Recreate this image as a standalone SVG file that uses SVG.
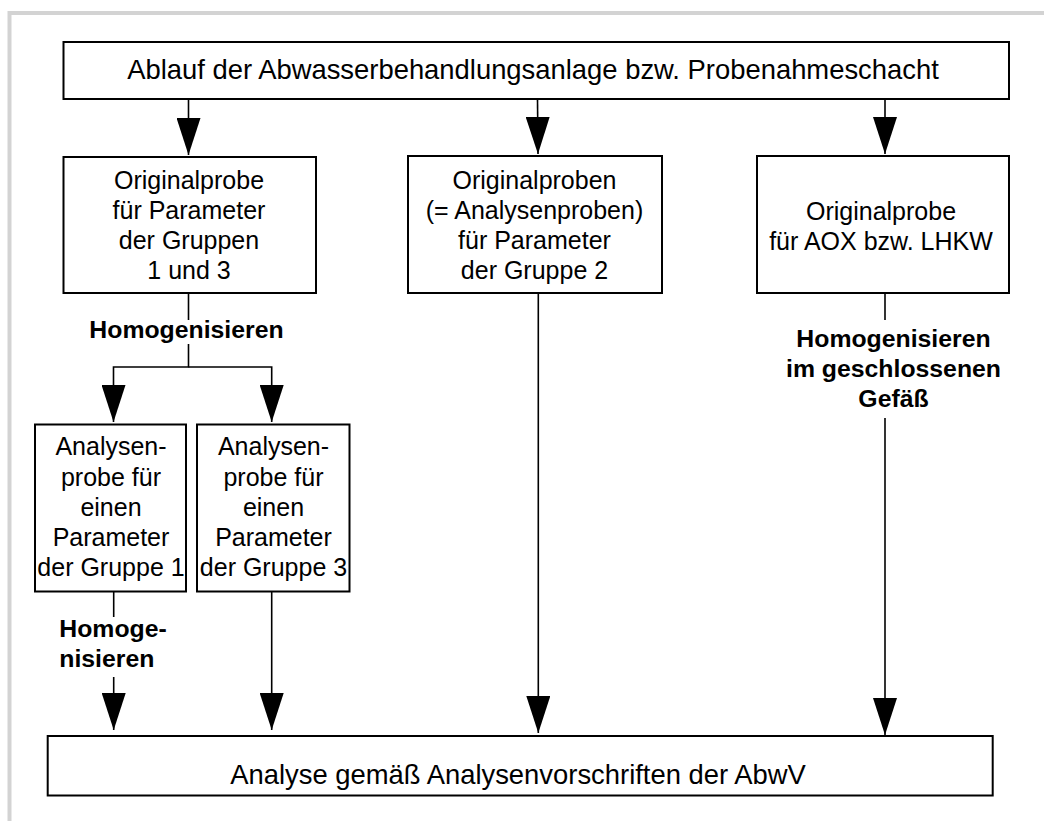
<svg xmlns="http://www.w3.org/2000/svg" width="1044" height="821" viewBox="0 0 1044 821">
<style>
.box{fill:#fff;stroke:#000;stroke-width:2}
.t{font-family:"Liberation Sans",Arial,sans-serif;font-size:25px;fill:#000;text-anchor:middle}
.tl{font-family:"Liberation Sans",Arial,sans-serif;font-size:27.4px;fill:#000;text-anchor:middle}
.b{font-family:"Liberation Sans",Arial,sans-serif;font-size:24.8px;font-weight:bold;fill:#000;text-anchor:middle}
.ln{fill:none;stroke:#000;stroke-width:1.6}
</style>
<defs>
<marker id="ah" viewBox="0 0 37 24" refX="37" refY="12" markerWidth="37" markerHeight="24" markerUnits="userSpaceOnUse" orient="auto">
<path d="M0,0 L37,12 L0,24 z" fill="#000"/>
</marker>
</defs>
<rect width="1044" height="821" fill="#fff"/>
<rect x="9.5" y="13" width="1200" height="1000" fill="none" stroke="#d3d3d3" stroke-width="4"/>

<g id="connectors">
<line class="ln" x1="188.5" y1="99" x2="188.5" y2="155" marker-end="url(#ah)"/>
<line class="ln" x1="537.5" y1="99" x2="538" y2="154" marker-end="url(#ah)"/>
<line class="ln" x1="885" y1="99" x2="885" y2="154" marker-end="url(#ah)"/>
<line class="ln" x1="188.5" y1="293" x2="188.5" y2="320"/>
<polyline class="ln" points="188.5,344 188.5,367 113.5,367 113.5,422" marker-end="url(#ah)"/>
<polyline class="ln" points="188.5,367 271.7,367 271.7,422" marker-end="url(#ah)"/>
<line class="ln" x1="113.7" y1="591.5" x2="113.7" y2="617"/>
<line class="ln" x1="113.7" y1="677" x2="113.7" y2="730" marker-end="url(#ah)"/>
<line class="ln" x1="271.7" y1="591.5" x2="271.7" y2="730" marker-end="url(#ah)"/>
<line class="ln" x1="538.3" y1="293" x2="538.3" y2="733" marker-end="url(#ah)"/>
<line class="ln" x1="885" y1="293" x2="885" y2="320"/>
<line class="ln" x1="885" y1="418" x2="885" y2="735" marker-end="url(#ah)"/>
<text class="b" x="186.5" y="338.3">Homogenisieren</text>
<text class="b" x="893.5" y="347.3">Homogenisieren</text>
<text class="b" x="893.5" y="377.3">im geschlossenen</text>
<text class="b" x="893.5" y="407.3">Gefäß</text>
<text class="b" x="59.3" y="636.7" style="text-anchor:start">Homoge-</text>
<text class="b" x="59.3" y="666.7" style="text-anchor:start">nisieren</text>
</g>

<g id="top">
<rect class="box" x="63.5" y="42" width="945.5" height="57"/>
<text class="tl" x="533" y="79">Ablauf der Abwasserbehandlungsanlage bzw. Probenahmeschacht</text>
</g>

<g id="orig13">
<rect class="box" x="63.5" y="157" width="252.5" height="136"/>
<text class="t" x="189" y="188.5">Originalprobe</text>
<text class="t" x="189" y="218.8">für Parameter</text>
<text class="t" x="189" y="249">der Gruppen</text>
<text class="t" x="189" y="279.3">1 und 3</text>
</g>

<g id="orig2">
<rect class="box" x="408" y="156" width="254" height="137"/>
<text class="t" x="534.5" y="188.5">Originalproben</text>
<text class="t" x="534.5" y="218.8">(= Analysenproben)</text>
<text class="t" x="534.5" y="249">für Parameter</text>
<text class="t" x="534.5" y="279.3">der Gruppe 2</text>
</g>

<g id="origAOX">
<rect class="box" x="757" y="156" width="252" height="137"/>
<text class="t" x="881" y="220">Originalprobe</text>
<text class="t" x="881" y="250">für AOX bzw. LHKW</text>
</g>

<g id="ana1">
<rect class="box" x="35" y="424.5" width="151" height="167"/>
<text class="t" x="111" y="455">Analysen-</text>
<text class="t" x="111" y="485.5">probe für</text>
<text class="t" x="111" y="515.5">einen</text>
<text class="t" x="111" y="546">Parameter</text>
<text class="t" x="111" y="576">der Gruppe 1</text>
</g>

<g id="ana3">
<rect class="box" x="197" y="424.5" width="152.5" height="167"/>
<text class="t" x="273.5" y="455">Analysen-</text>
<text class="t" x="273.5" y="485.5">probe für</text>
<text class="t" x="273.5" y="515.5">einen</text>
<text class="t" x="273.5" y="546">Parameter</text>
<text class="t" x="273.5" y="576">der Gruppe 3</text>
</g>

<g id="analyse">
<rect class="box" x="47.7" y="736" width="945" height="59.5"/>
<text class="tl" x="518" y="784.3">Analyse gemäß Analysenvorschriften der AbwV</text>
</g>
</svg>
